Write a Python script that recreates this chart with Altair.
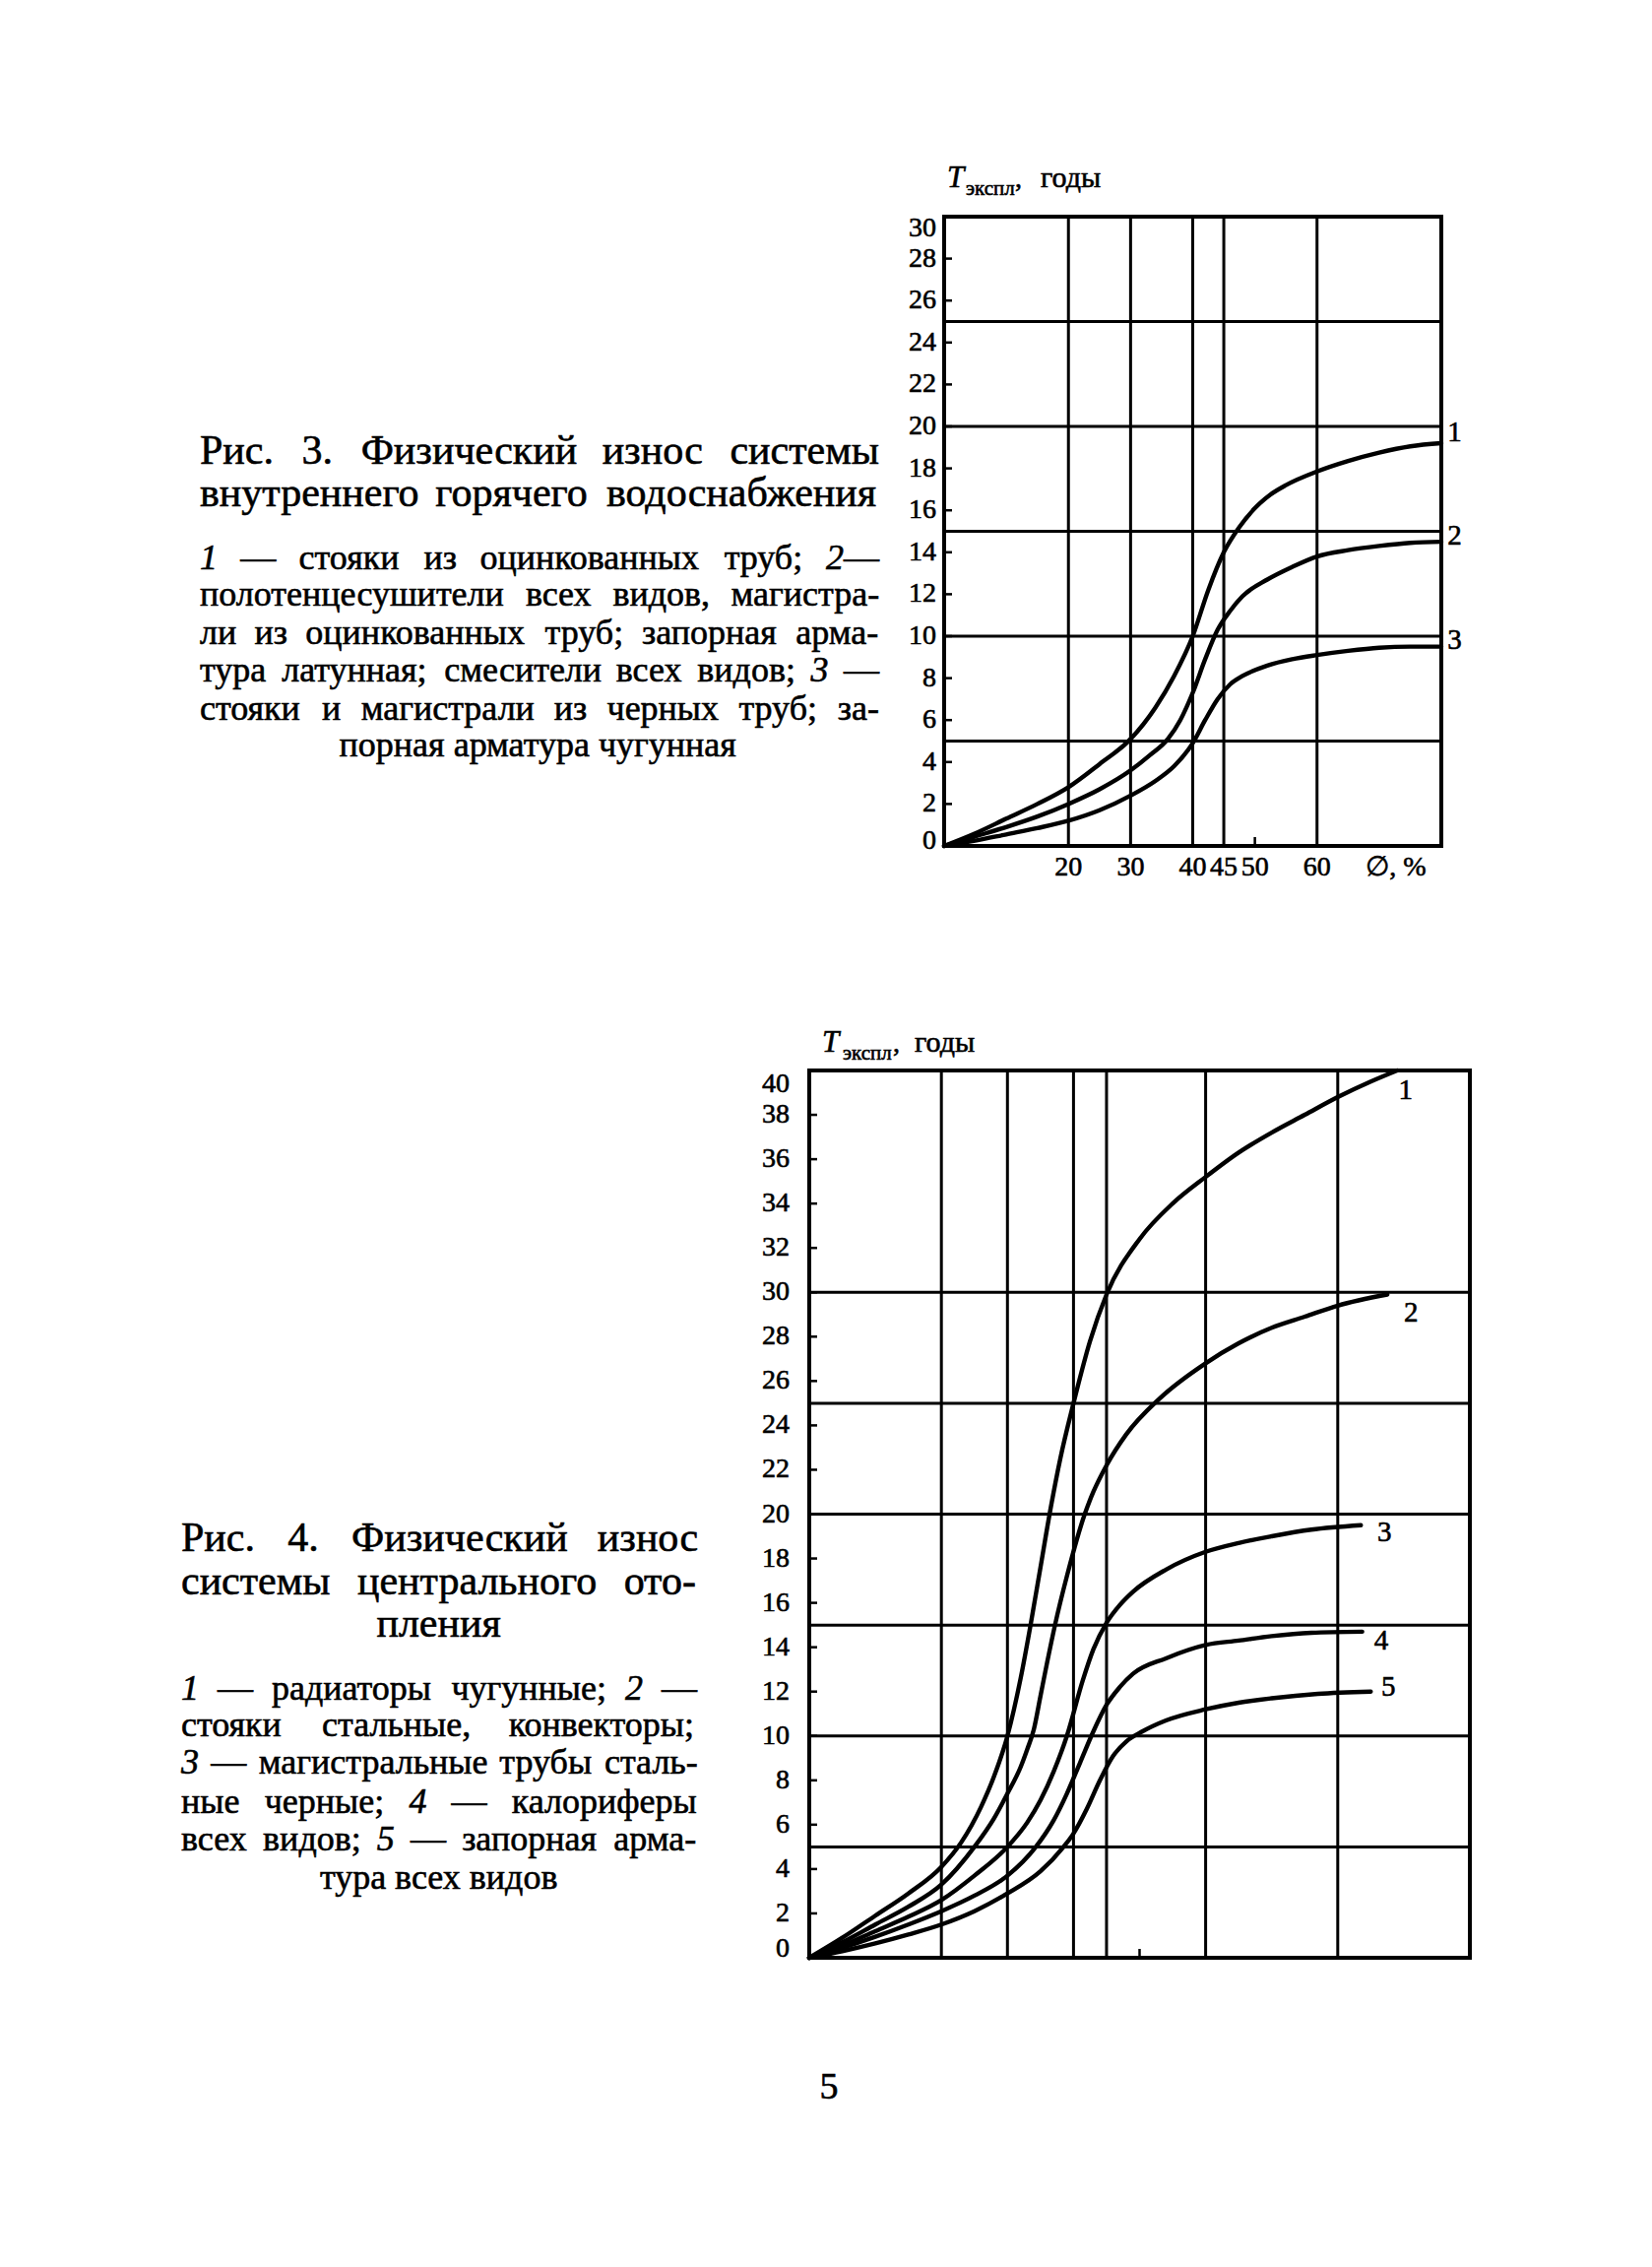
import altair as alt
import pandas as pd

FONT = "Liberation Serif"
INK = "#000000"
TXT_STROKE = 0.6
PAGE_W, PAGE_H = 1678, 2302

# ---------------- Fig. 3 data ----------------
f3_c1_x = [0, 5, 10, 15, 20, 25, 30, 34, 37, 40, 42.5, 45, 47.5, 50, 52.5, 55, 60, 65, 70, 75, 80]
f3_c1_y = [0, 0.6, 1.3, 2.0, 2.8, 3.9, 5.1, 6.6, 8.1, 10.0, 12.2, 14.0, 15.2, 16.1, 16.75, 17.2, 17.85, 18.35, 18.75, 19.05, 19.2]
f3_c2_x = [0, 5, 10, 15, 20, 25, 30, 33, 36, 38, 40, 42, 44, 46, 48, 52, 56, 60, 65, 70, 75, 80]
f3_c2_y = [0, 0.45, 0.9, 1.4, 2.0, 2.7, 3.6, 4.3, 5.1, 6.0, 7.3, 8.9, 10.3, 11.2, 11.9, 12.7, 13.3, 13.8, 14.1, 14.3, 14.45, 14.5]
f3_c3_x = [0, 5, 10, 15, 20, 25, 30, 34, 37, 40, 42, 44, 46, 48, 52, 56, 60, 65, 70, 75, 80]
f3_c3_y = [0, 0.25, 0.55, 0.85, 1.2, 1.7, 2.4, 3.1, 3.8, 4.9, 6.0, 7.0, 7.7, 8.1, 8.6, 8.9, 9.1, 9.3, 9.45, 9.5, 9.5]

f3_grid_x = [20, 30, 40, 45, 60]
f3_grid_y = [5, 10, 15, 20, 25]
f3_frame_x = [0, 80]
f3_frame_y = [0, 30]
f3_yticks = list(range(0, 31, 2))
f3_xticks = [20, 30, 40, 45, 50, 60]
f3_minor_x = [50]
f3_labels = ["1", "2", "3"]
f3_label_x = [81.0, 81.0, 81.0]
f3_label_y = [19.7, 14.8, 9.8]

# ---------------- Fig. 4 data ----------------
f4_c1_x = [0, 5, 10, 15, 20, 23, 26, 28, 30, 32, 33.5, 35, 36.5, 38, 40, 42.5, 45, 50, 55, 60, 65, 70, 75, 80, 85, 89]
f4_c1_y = [0, 0.9, 1.9, 2.9, 4.1, 5.2, 6.8, 8.2, 10.0, 12.6, 15.0, 17.6, 20.2, 22.5, 25.0, 27.8, 29.9, 32.4, 34.0, 35.2, 36.3, 37.2, 38.0, 38.8, 39.5, 40.0]
f4_c2_x = [0, 5, 10, 15, 20, 25, 28, 30, 32, 33, 34, 35, 36, 37.2, 39, 41.7, 43, 45, 48, 53, 60, 65, 70, 75, 80, 87.5]
f4_c2_y = [0, 0.7, 1.5, 2.3, 3.3, 5.0, 6.3, 7.4, 8.6, 9.4, 10.3, 11.8, 13.3, 15.0, 17.2, 20.0, 21.0, 22.2, 23.6, 25.2, 26.8, 27.7, 28.4, 28.9, 29.4, 29.9]
f4_c3_x = [0, 5, 10, 15, 20, 25, 30, 33, 35, 37, 39, 41.4, 43, 45, 47, 49, 54, 60, 65, 70, 76, 83.5]
f4_c3_y = [0, 0.55, 1.2, 1.85, 2.6, 3.7, 5.0, 6.1, 7.1, 8.4, 10.0, 12.5, 13.9, 15.1, 15.9, 16.5, 17.5, 18.3, 18.7, 19.0, 19.3, 19.5]
f4_c4_x = [0, 5, 10, 15, 20, 25, 30, 34.3, 37, 39, 41, 43, 45, 47, 49, 54, 60, 65, 70, 76, 83.7]
f4_c4_y = [0, 0.45, 0.95, 1.5, 2.1, 2.8, 3.7, 5.0, 6.2, 7.4, 8.8, 10.2, 11.4, 12.2, 12.8, 13.5, 14.1, 14.3, 14.5, 14.65, 14.7]
f4_c5_x = [0, 5, 10, 15, 20, 25, 30, 35, 38.5, 40, 42, 44, 46, 48, 50.4, 54, 60, 65, 70, 77, 85]
f4_c5_y = [0, 0.3, 0.65, 1.05, 1.5, 2.1, 2.9, 3.9, 5.0, 5.6, 6.7, 8.0, 9.1, 9.75, 10.2, 10.7, 11.2, 11.5, 11.7, 11.9, 12.0]

f4_grid_x = [20, 30, 40, 45, 60, 80]
f4_grid_y = [5, 10, 15, 20, 25, 30]
f4_frame_x = [0, 100]
f4_frame_y = [0, 40]
f4_yticks = list(range(0, 41, 2))
f4_minor_x = [50]
f4_labels = ["1", "2", "3", "4", "5"]
f4_label_x = [89.2, 90.0, 86.0, 85.5, 86.6]
f4_label_y = [39.1, 29.1, 19.2, 14.3, 12.2]

# ---------------- texts ----------------
f3_caption = ["Рис. 3. Физический износ системы", "внутреннего горячего водоснабжения"]
f3_legend = ["1 — стояки из оцинкованных труб; 2—",
             "полотенцесушители всех видов, магистра-",
             "ли из оцинкованных труб; запорная арма-",
             "тура латунная; смесители всех видов; 3 —",
             "стояки и магистрали из черных труб; за-",
             "порная арматура чугунная"]
f4_caption = ["Рис. 4. Физический износ", "системы центрального ото-", "пления"]
f4_legend = ["1 — радиаторы чугунные; 2 —",
             "стояки стальные, конвекторы;",
             "3 — магистральные трубы сталь-",
             "ные черные; 4 — калориферы",
             "всех видов; 5 — запорная арма-",
             "тура всех видов"]
axis_title_T = "T"
axis_title_sub = "экспл"
axis_title_unit = "годы"
x_title_f3 = "∅, %"
page_number = "5"

# approximate advance widths (em) of the serif face, used only to justify lines
CW = {" ": .25, ".": .25, ",": .25, ";": .278, "-": .333, "—": 1.0,
      "Р": .556, "Ф": .74,
      "а": .444, "б": .509, "в": .472, "г": .41, "д": .509, "е": .444, "ж": .691, "з": .395,
      "и": .535, "й": .535, "к": .486, "л": .499, "м": .633, "н": .535, "о": .5, "п": .535,
      "р": .5, "с": .444, "т": .437, "у": .5, "ф": .648, "х": .5, "ц": .535, "ч": .503,
      "ш": .77, "щ": .77, "ъ": .517, "ы": .672, "ь": .456, "э": .433, "ю": .726, "я": .479}


def tw(s, size):
    return sum(CW.get(ch, 0.5) for ch in s) * size


def layout_block(lines, ys, left, right, size, centered, italic_digits, up_rows, it_rows):
    W = right - left
    for line, y, c in zip(lines, ys, centered):
        if c:
            x0 = (left + right) / 2 - tw(line, size) / 2
            up_rows.append((line, x0, y, size))
            continue
        words = line.split(" ")
        fs = size
        while True:
            widths = [tw(w, fs) for w in words]
            gap = (W - sum(widths)) / (len(words) - 1)
            if gap >= 0.27 * fs or fs < size - 4:
                break
            fs -= 0.5
        x = left
        for w, wd in zip(words, widths):
            if italic_digits and w[0].isdigit():
                it_rows.append((w[0], x, y, fs))
                if len(w) > 1:
                    up_rows.append((w[1:], x + tw(w[0], fs), y, fs))
            else:
                up_rows.append((w, x, y, fs))
            x += wd + gap


up_rows, it_rows = [], []
layout_block(f3_caption, [458, 501], 203, 893, 42, [False, False], False, up_rows, it_rows)
layout_block(f3_legend, [567, 604, 643, 681, 720, 757], 203, 893, 36,
             [False, False, False, False, False, True], True, up_rows, it_rows)
layout_block(f4_caption, [1562, 1606, 1649], 184, 708, 42, [False, False, True], False, up_rows, it_rows)
layout_block(f4_legend, [1715, 1752, 1790, 1830, 1868, 1907], 184, 708, 36,
             [False, False, False, False, False, True], True, up_rows, it_rows)


def text_layer(rows, style):
    df = pd.DataFrame(rows, columns=["t", "px", "py", "fs"])
    return alt.Chart(df).mark_text(align="left", baseline="middle", font=FONT,
                                   fontStyle=style, color=INK, stroke=INK,
                                   strokeWidth=TXT_STROKE).encode(
        x=alt.X("px:Q", scale=None, axis=None),
        y=alt.Y("py:Q", scale=None, axis=None),
        size=alt.Size("fs:Q", scale=None, legend=None),
        text="t:N")


def curves_df(pairs):
    frames = []
    for name, xs, ys in pairs:
        frames.append(pd.DataFrame({"x": xs, "y": ys, "s": name}))
    return pd.concat(frames, ignore_index=True)


def figure(sx, sy, xmax, ymax, curves, grid_x, grid_y, frame_x, frame_y,
           yticks, left_px, bottom_px, label_pad, top_dy, bot_dy,
           xticks, minor_x, labels, lab_x, lab_y):
    layers = []
    layers.append(alt.Chart(pd.DataFrame({"v": grid_x, "lo": 0, "hi": ymax})).mark_rule(
        color=INK, strokeWidth=3).encode(
        x=alt.X("v:Q", scale=sx, axis=None),
        y=alt.Y("lo:Q", scale=sy, axis=None), y2="hi:Q"))
    layers.append(alt.Chart(pd.DataFrame({"v": grid_y, "lo": 0, "hi": xmax})).mark_rule(
        color=INK, strokeWidth=3).encode(
        y=alt.Y("v:Q", scale=sy, axis=None),
        x=alt.X("lo:Q", scale=sx, axis=None), x2="hi:Q"))
    layers.append(alt.Chart(pd.DataFrame({"v": frame_x, "lo": 0, "hi": ymax})).mark_rule(
        color=INK, strokeWidth=4, strokeCap="square").encode(
        x=alt.X("v:Q", scale=sx, axis=None),
        y=alt.Y("lo:Q", scale=sy, axis=None), y2="hi:Q"))
    layers.append(alt.Chart(pd.DataFrame({"v": frame_y, "lo": 0, "hi": xmax})).mark_rule(
        color=INK, strokeWidth=4, strokeCap="square").encode(
        y=alt.Y("v:Q", scale=sy, axis=None),
        x=alt.X("lo:Q", scale=sx, axis=None), x2="hi:Q"))
    # inward y ticks
    layers.append(alt.Chart(pd.DataFrame({"v": yticks})).mark_rule(
        color=INK, strokeWidth=2.5).encode(
        y=alt.Y("v:Q", scale=sy, axis=None),
        x=alt.value(left_px), x2=alt.value(left_px + 8)))
    # y tick labels (end labels nudged inside the frame, as printed)
    lo_v, hi_v = yticks[0], yticks[-1]
    mid = [v for v in yticks if v not in (lo_v, hi_v)]
    for vals, dy in ((mid, 0), ([lo_v], bot_dy), ([hi_v], top_dy)):
        layers.append(alt.Chart(pd.DataFrame({"v": vals, "t": [str(v) for v in vals]})).mark_text(
            font=FONT, fontSize=28, color=INK, stroke=INK, strokeWidth=TXT_STROKE,
            align="right", baseline="middle", dy=dy).encode(
            y=alt.Y("v:Q", scale=sy, axis=None),
            x=alt.value(left_px - label_pad), text="t:N"))
    if xticks:
        layers.append(alt.Chart(pd.DataFrame({"v": xticks, "t": [str(v) for v in xticks]})).mark_text(
            font=FONT, fontSize=28, color=INK, stroke=INK, strokeWidth=TXT_STROKE,
            align="center", baseline="middle").encode(
            x=alt.X("v:Q", scale=sx, axis=None),
            y=alt.value(bottom_px + 22), text="t:N"))
    layers.append(alt.Chart(pd.DataFrame({"v": minor_x})).mark_rule(
        color=INK, strokeWidth=2.5).encode(
        x=alt.X("v:Q", scale=sx, axis=None),
        y=alt.value(bottom_px), y2=alt.value(bottom_px - 9)))
    layers.append(alt.Chart(curves).mark_line(
        color=INK, strokeWidth=4.4, interpolate="monotone", strokeCap="round").encode(
        x=alt.X("x:Q", scale=sx, axis=None),
        y=alt.Y("y:Q", scale=sy, axis=None),
        detail="s:N"))
    layers.append(alt.Chart(pd.DataFrame({"t": labels, "x": lab_x, "y": lab_y})).mark_text(
        font=FONT, fontSize=29, color=INK, stroke=INK, strokeWidth=TXT_STROKE,
        align="left", baseline="middle").encode(
        x=alt.X("x:Q", scale=sx, axis=None),
        y=alt.Y("y:Q", scale=sy, axis=None), text="t:N"))
    return alt.layer(*layers)


# ---- Fig. 3 ----
sx3 = alt.Scale(domain=[0, 80], range=[959, 1464], nice=False, zero=False)
sy3 = alt.Scale(domain=[0, 30], range=[859, 220], nice=False, zero=False)
fig3 = figure(sx3, sy3, 80, 30,
              curves_df([("1", f3_c1_x, f3_c1_y), ("2", f3_c2_x, f3_c2_y), ("3", f3_c3_x, f3_c3_y)]),
              f3_grid_x, f3_grid_y, f3_frame_x, f3_frame_y, f3_yticks, 959, 859, 8, 12, -5,
              f3_xticks, f3_minor_x, f3_labels, f3_label_x, f3_label_y)

# ---- Fig. 4 ----
sx4 = alt.Scale(domain=[0, 100], range=[822, 1493], nice=False, zero=False)
sy4 = alt.Scale(domain=[0, 40], range=[1988, 1087], nice=False, zero=False)
fig4 = figure(sx4, sy4, 100, 40,
              curves_df([("1", f4_c1_x, f4_c1_y), ("2", f4_c2_x, f4_c2_y), ("3", f4_c3_x, f4_c3_y),
                         ("4", f4_c4_x, f4_c4_y), ("5", f4_c5_x, f4_c5_y)]),
              f4_grid_x, f4_grid_y, f4_frame_x, f4_frame_y, f4_yticks, 822, 1988, 20, 14, -9,
              [], f4_minor_x, f4_labels, f4_label_x, f4_label_y)


def piece(s, x, y, size, align="left", style="normal", baseline="middle"):
    return alt.Chart(pd.DataFrame({"t": [s]})).mark_text(
        align=align, baseline=baseline, font=FONT, fontSize=size,
        fontStyle=style, color=INK, stroke=INK, strokeWidth=TXT_STROKE).encode(
        x=alt.value(x), y=alt.value(y), text="t:N")


extras = [piece(axis_title_T, 962, 190, 31, style="italic", baseline="alphabetic"),
          piece(axis_title_sub, 981, 198, 21, baseline="alphabetic"),
          piece(",", 1031, 190, 28, baseline="alphabetic"),
          piece(axis_title_unit, 1057, 190, 30, baseline="alphabetic"),
          piece(x_title_f3, 1418, 881, 28, align="center"),
          piece(axis_title_T, 835, 1068, 31, style="italic", baseline="alphabetic"),
          piece(axis_title_sub, 856, 1076, 21, baseline="alphabetic"),
          piece(",", 907, 1068, 28, baseline="alphabetic"),
          piece(axis_title_unit, 929, 1068, 30, baseline="alphabetic"),
          piece(page_number, 842, 2120, 38, align="center")]

chart = alt.layer(fig3, fig4, text_layer(up_rows, "normal"), text_layer(it_rows, "italic"),
                  *extras).resolve_scale(
    x="independent", y="independent").properties(
    width=PAGE_W, height=PAGE_H, padding=0,
    autosize=alt.AutoSizeParams(type="none"), background="white"
).configure_view(strokeWidth=0)

chart.save("out.html", embed_options={"renderer": "svg", "actions": False})
